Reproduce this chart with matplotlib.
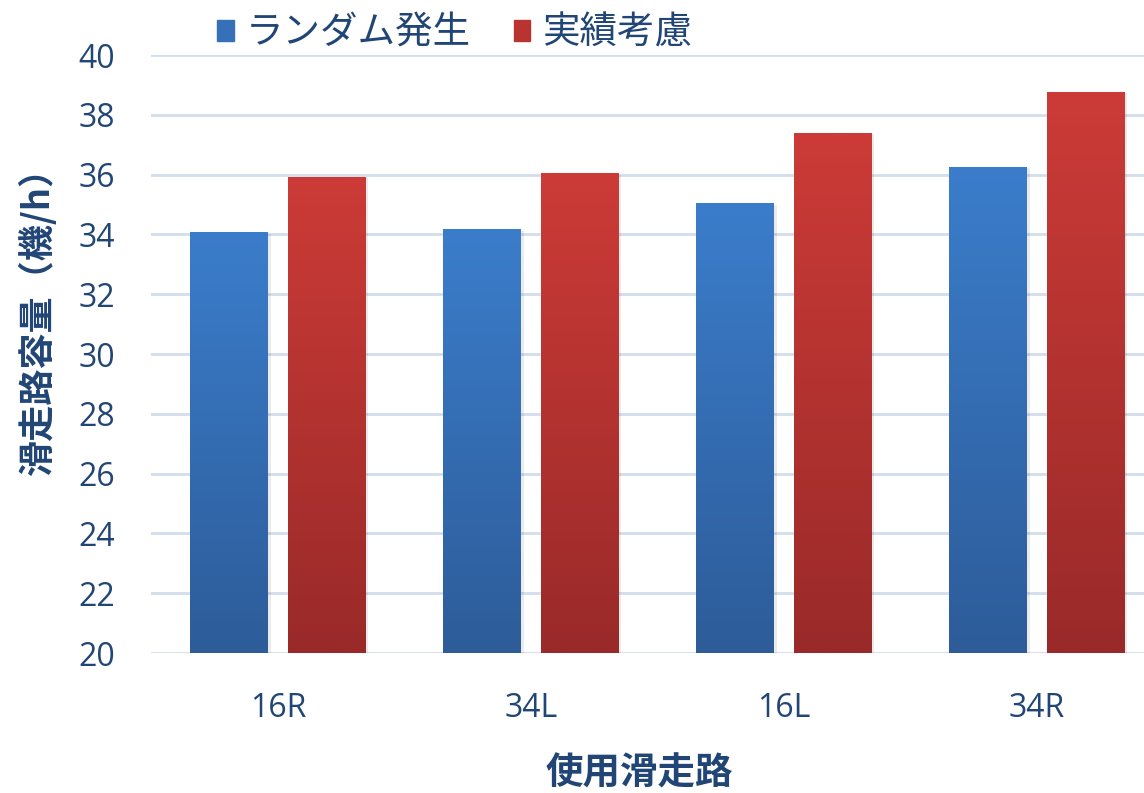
import numpy as np
import matplotlib
matplotlib.use('Agg')
import matplotlib.pyplot as plt
from matplotlib.colors import LinearSegmentedColormap

plt.rcParams['font.family'] = ['Open Sans', 'Noto Sans CJK JP', 'DejaVu Sans']

runways = ['16R', '34L', '16L', '34R']
random_gen = [34.08, 34.17, 35.04, 36.26]
actual_based = [35.93, 36.04, 37.38, 38.77]
series_names = ['ランダム発生', '実績考慮']

text_color = '#214676'
grid_color = '#d3deec'

fig = plt.figure(figsize=(11.44, 7.93), dpi=100)
ax = fig.add_axes([0.1324, 0.1765, 0.8846, 0.7541])

x = np.arange(len(runways))
width = 0.308
offset = 0.193

# vertical gradients for each series (bottom colour -> top colour)
grads = [
    LinearSegmentedColormap.from_list('blue', ['#2d5c99', '#3b7dcb']),
    LinearSegmentedColormap.from_list('red', ['#992a29', '#cc3b37']),
]
base = ['#3b7dcb', '#cc3b37']
legend_cols = ['#3570b8', '#b93331']

for i, vals in enumerate([random_gen, actual_based]):
    pos = x + (-offset if i == 0 else offset)
    bars = ax.bar(pos, np.array(vals) - 20, width, bottom=20, color=base[i],
                  label=series_names[i], zorder=3, linewidth=0)
    for b in bars:
        x0, y0 = b.get_x(), b.get_y()
        x1, y1 = x0 + b.get_width(), y0 + b.get_height()
        # soft shadow on the right side
        ax.add_patch(plt.Rectangle((x0 + 0.01, y0), b.get_width(), b.get_height() - 0.05,
                                   color='#000000', alpha=0.08, zorder=2, linewidth=0))
        g = np.linspace(0, 1, 256).reshape(-1, 1)
        im = ax.imshow(g, extent=(x0, x1, y0, y1), origin='lower', aspect='auto',
                       cmap=grads[i], zorder=4)
        im.set_clip_path(b)

ax.set_aspect('auto')
ax.set_xlim(-0.5, len(runways) - 0.5)
ax.set_ylim(20, 40)

ax.set_yticks(np.arange(20, 41, 2))
ax.set_xticks(x)
ax.set_xticklabels(runways)
ax.grid(axis='y', color=grid_color, linewidth=2, zorder=0)
ax.set_axisbelow(True)
for s in ax.spines.values():
    s.set_visible(False)
ax.tick_params(axis='both', length=0, labelsize=23, labelcolor=text_color)
ax.tick_params(axis='y', pad=26)
ax.tick_params(axis='x', pad=28)

ax.set_ylabel('滑走路容量（機/h）', fontsize=26, fontweight='bold', color=text_color,
              family=['Noto Sans CJK JP'])
ax.yaxis.set_label_coords(-0.112, 0.568)
ax.yaxis.label.set_va('center')
ax.set_xlabel('使用滑走路', fontsize=27, fontweight='bold', color=text_color,
              family=['Noto Sans CJK JP'])
ax.xaxis.set_label_coords(0.482, -0.2)
ax.xaxis.label.set_va('center')

handles = [plt.Rectangle((0, 0), 1, 1, color=c) for c in legend_cols]
leg = fig.legend(handles, series_names, loc='center left', bbox_to_anchor=(0.19, 0.958),
                 ncol=2, frameon=False, handlelength=0.45, handleheight=0.45,
                 handletextpad=0.3, columnspacing=1.15, borderaxespad=0, borderpad=0,
                 prop={'family': ['Noto Sans CJK JP'], 'size': 27})
for t in leg.get_texts():
    t.set_color(text_color)

fig.savefig('out.png', dpi=100)
